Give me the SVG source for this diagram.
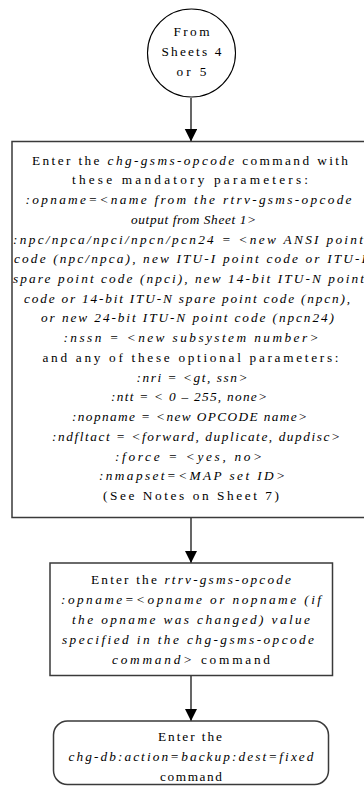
<svg xmlns="http://www.w3.org/2000/svg" width="364" height="786" viewBox="0 0 364 786">
<style>
.shape{fill:#fff;stroke:#3a3a3a;stroke-width:1.5}
.circ{fill:#fff;stroke:#000;stroke-width:1.1}
.t{font-family:"Liberation Serif","Times New Roman",serif;font-size:13.3px;fill:#000;text-anchor:middle}
.i{font-style:italic}
.conn{stroke:#000;stroke-width:1.2;fill:none}
</style>
<defs>
<marker id="ah" markerWidth="13" markerHeight="13" refX="12.5" refY="6.25" orient="auto" markerUnits="userSpaceOnUse">
<path d="M0,0 L12.5,6.25 L0,12.5 Z" fill="#000"/>
</marker>
</defs>
<rect width="364" height="786" fill="#fff"/>
<g id="connectors">
<line class="conn" x1="191" y1="98" x2="191" y2="141.5" marker-end="url(#ah)"/>
<line class="conn" x1="191" y1="517.5" x2="191" y2="563" marker-end="url(#ah)"/>
<line class="conn" x1="191" y1="675.5" x2="191" y2="721" marker-end="url(#ah)"/>
</g>
<g id="start">
<circle class="circ" cx="191.5" cy="53" r="44"/>
<text class="t" x="191.5" y="36" textLength="36" lengthAdjust="spacing">From</text>
<text class="t" x="191.5" y="56" textLength="60" lengthAdjust="spacing">Sheets 4</text>
<text class="t" x="191.5" y="76" textLength="30" lengthAdjust="spacing">or 5</text>
</g>
<g id="chg-gsms-opcode">
<rect class="shape" x="12" y="141.5" width="356" height="376"/>
<text class="t" x="190" y="164.5" textLength="316" lengthAdjust="spacing">Enter the <tspan class="i">chg-gsms-opcode</tspan> command with</text>
<text class="t" x="190" y="184.2" textLength="236" lengthAdjust="spacing">these mandatory parameters:</text>
<text class="t i" x="188.5" y="204" textLength="326" lengthAdjust="spacing">:opname=&lt;name from the rtrv-gsms-opcode</text>
<text class="t i" x="193.5" y="223.7" textLength="125" lengthAdjust="spacing">output from Sheet 1&gt;</text>
<text class="t i" x="188" y="243.5" textLength="350" lengthAdjust="spacing">:npc/npca/npci/npcn/pcn24 = &lt;new ANSI point</text>
<text class="t i" x="190" y="263.2" textLength="352" lengthAdjust="spacing">code (npc/npca), new ITU-I point code or ITU-I</text>
<text class="t i" x="188.5" y="282.9" textLength="351" lengthAdjust="spacing">spare point code (npci), new 14-bit ITU-N point</text>
<text class="t i" x="187" y="302.7" textLength="326" lengthAdjust="spacing">code or 14-bit ITU-N spare point code (npcn),</text>
<text class="t i" x="187.5" y="322.4" textLength="293" lengthAdjust="spacing">or new 24-bit ITU-N point code (npcn24)</text>
<text class="t i" x="191" y="342.2" textLength="255" lengthAdjust="spacing">:nssn = &lt;new subsystem number&gt;</text>
<text class="t" x="190.5" y="361.9" textLength="296" lengthAdjust="spacing">and any of these optional parameters:</text>
<text class="t i" x="192" y="381.6" textLength="111" lengthAdjust="spacing">:nri = &lt;gt, ssn&gt;</text>
<text class="t i" x="189" y="401.4" textLength="156" lengthAdjust="spacing">:ntt = &lt; 0 – 255, none&gt;</text>
<text class="t i" x="189.5" y="421.1" textLength="235" lengthAdjust="spacing">:nopname = &lt;new OPCODE name&gt;</text>
<text class="t i" x="196" y="440.9" textLength="288" lengthAdjust="spacing">:ndfltact = &lt;forward, duplicate, dupdisc&gt;</text>
<text class="t i" x="188.5" y="460.6" textLength="147" lengthAdjust="spacing">:force = &lt;yes, no&gt;</text>
<text class="t i" x="192" y="480.3" textLength="186" lengthAdjust="spacing">:nmapset=&lt;MAP set ID&gt;</text>
<text class="t" x="191" y="500.1" textLength="176" lengthAdjust="spacing">(See Notes on Sheet 7)</text>
</g>
<g id="rtrv-gsms-opcode">
<rect class="shape" x="50" y="563" width="282.5" height="112.5"/>
<text class="t" x="191" y="584" textLength="200" lengthAdjust="spacing">Enter the <tspan class="i">rtrv-gsms-opcode</tspan></text>
<text class="t i" x="191" y="604" textLength="260" lengthAdjust="spacing">:opname=&lt;opname or nopname (if</text>
<text class="t i" x="191" y="624" textLength="238" lengthAdjust="spacing">the opname was changed) value</text>
<text class="t i" x="188" y="644" textLength="252" lengthAdjust="spacing">specified in the chg-gsms-opcode</text>
<text class="t" x="191" y="664" textLength="158" lengthAdjust="spacing"><tspan class="i">command&gt;</tspan> command</text>
</g>
<g id="chg-db">
<rect class="shape" x="53.5" y="721" width="275" height="63.5" rx="14" ry="14"/>
<text class="t" x="190" y="740.5" textLength="64" lengthAdjust="spacing">Enter the</text>
<text class="t i" x="191" y="760.5" textLength="245" lengthAdjust="spacing">chg-db:action=backup:dest=fixed</text>
<text class="t" x="191" y="780.5" textLength="62" lengthAdjust="spacing">command</text>
</g>
</svg>
